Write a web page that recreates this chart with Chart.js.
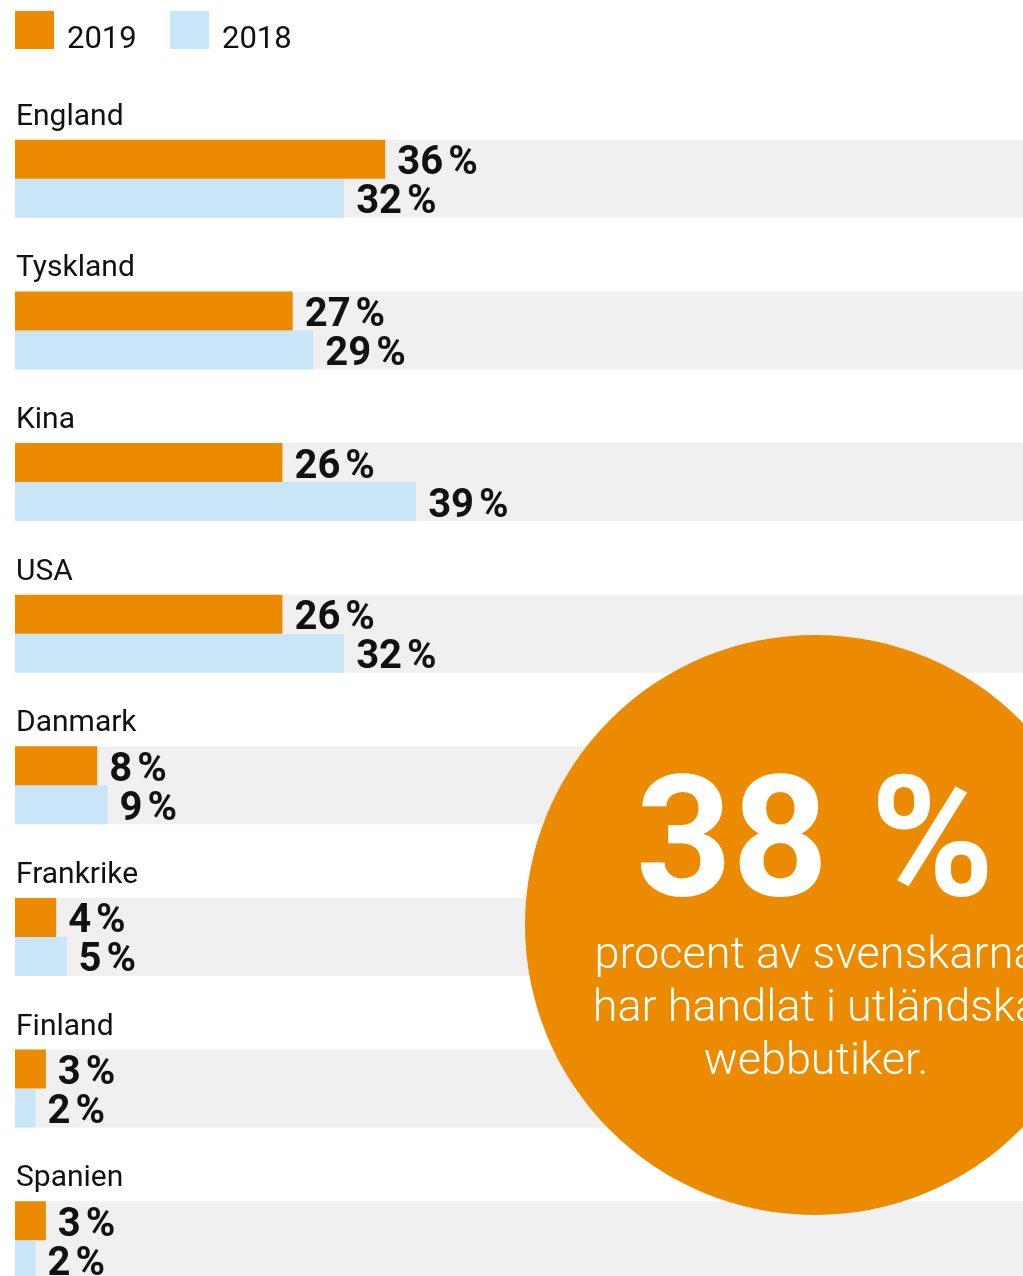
<!DOCTYPE html>
<html lang="sv">
<head>
<meta charset="utf-8">
<title>Utländska webbutiker</title>
<script src="https://cdn.jsdelivr.net/npm/chart.js@4"></script>
<style>
  html, body { margin: 0; padding: 0; background: #fff; overflow: hidden; }
  #wrap { position: relative; width: 1023px; height: 1316px; }
</style>
</head>
<body>
<div id="wrap"><canvas id="chart"></canvas></div>
<script>
const countries = ["England", "Tyskland", "Kina", "USA", "Danmark", "Frankrike", "Finland", "Spanien"];
const share2019 = [36, 27, 26, 26, 8, 4, 3, 3];
const share2018 = [32, 29, 39, 32, 9, 5, 2, 2];
const bandEnd = 98;

const bigNumber = "38 %";
const bigText = ["procent av svenskarna", "har handlat i utländska", "webbutiker."];

const orange = "#EC8B00";
const blue = "#C8E6F8";
const grey = "#F0F0F0";
const ink = "#111111";
const fontName = "Roboto, 'DejaVu Sans', sans-serif";

// legend squares + year labels at top left
const legendPlugin = {
  id: "legendBoxes",
  afterDraw(chart) {
    const ctx = chart.ctx;
    const xs = [15, 170];
    ctx.save();
    ctx.font = "31px " + fontName;
    ctx.textBaseline = "alphabetic";
    chart.data.datasets.slice(0, 2).forEach((ds, i) => {
      ctx.fillStyle = ds.backgroundColor;
      ctx.fillRect(xs[i], 11, 39, 38);
      ctx.fillStyle = ink;
      ctx.fillText(ds.label, xs[i] + 52, 48);
    });
    ctx.restore();
  }
};

// country name above each grey band, value text after each bar
const labelPlugin = {
  id: "barLabels",
  afterDatasetsDraw(chart) {
    const ctx = chart.ctx;
    ctx.save();
    ctx.textBaseline = "alphabetic";
    ctx.fillStyle = ink;

    const bands = chart.getDatasetMeta(2).data;
    ctx.font = "30px " + fontName;
    bands.forEach((bar, i) => {
      const p = bar.getProps(["y", "height"], true);
      ctx.fillText(countries[i], 16, p.y - p.height / 2 - 15);
    });

    ctx.font = "bold 40px " + fontName;
    [0, 1].forEach(d => {
      const vals = chart.data.datasets[d].data;
      chart.getDatasetMeta(d).data.forEach((bar, i) => {
        const p = bar.getProps(["x", "y"], true);
        const num = String(vals[i]);
        const x = p.x + 12;
        ctx.fillText(num, x, p.y + 15);
        ctx.fillText("%", x + ctx.measureText(num).width + 5, p.y + 15);
      });
    });
    ctx.restore();
  }
};

// orange bubble with the headline figure
const bubblePlugin = {
  id: "bubble",
  afterDraw(chart) {
    const ctx = chart.ctx;
    const cx = 815, cy = 925, r = 290;
    ctx.save();
    ctx.fillStyle = orange;
    ctx.beginPath();
    ctx.arc(cx, cy, r, 0, Math.PI * 2);
    ctx.fill();
    ctx.fillStyle = "#fff";
    ctx.textAlign = "center";
    ctx.textBaseline = "alphabetic";
    ctx.font = "bold 168px " + fontName;
    ctx.fillText(bigNumber, cx, 895);
    ctx.font = "300 45px " + fontName;
    bigText.forEach((line, i) => ctx.fillText(line, cx + 1, 968 + i * 53));
    ctx.restore();
  }
};

const ctx = document.getElementById("chart").getContext("2d");

const chart = new Chart(ctx, {
  type: "bar",
  data: {
    labels: countries,
    datasets: [
      { label: "2019", data: share2019, backgroundColor: orange, order: 0 },
      { label: "2018", data: share2018, backgroundColor: blue, order: 0 },
      { label: "band", data: countries.map(() => bandEnd), backgroundColor: grey, grouped: false, order: 1 }
    ]
  },
  options: {
    indexAxis: "y",
    responsive: true,
    maintainAspectRatio: false,
    animation: false,
    layout: { padding: { top: 103, left: 15, right: 0, bottom: 0 } },
    datasets: {
      bar: { categoryPercentage: 78 / 151.6, barPercentage: 1, borderWidth: 0 }
    },
    scales: {
      x: { display: false, min: 0, max: bandEnd },
      y: { display: false }
    },
    plugins: {
      legend: { display: false },
      tooltip: { enabled: false }
    }
  },
  plugins: [legendPlugin, labelPlugin, bubblePlugin]
});
</script>
</body>
</html>
